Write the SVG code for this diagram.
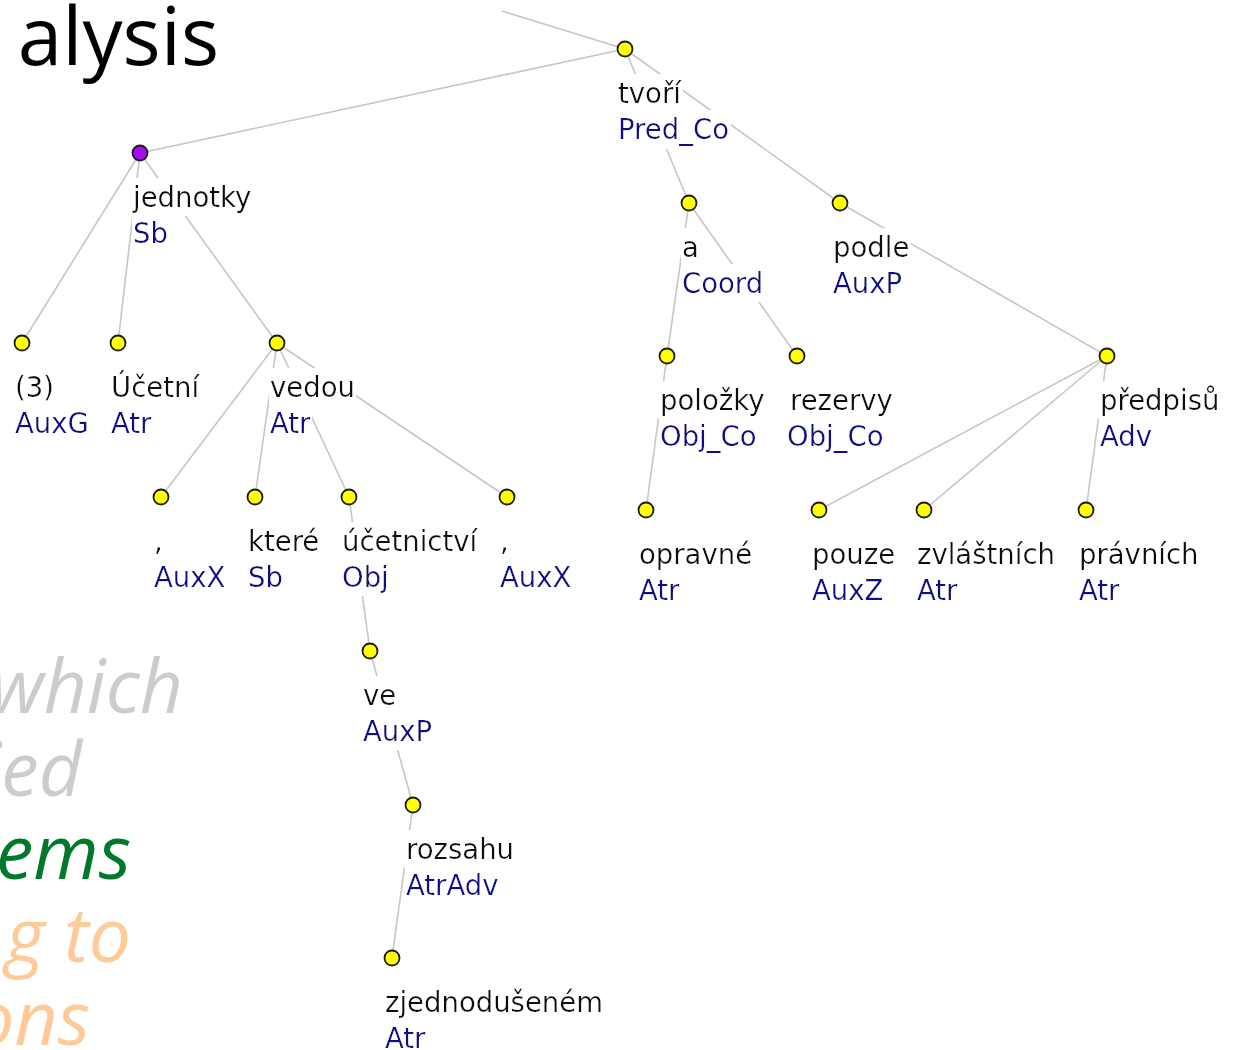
<svg xmlns="http://www.w3.org/2000/svg" width="1236" height="1050" viewBox="0 0 1236 1050">
<defs>
<filter id="bg" x="-0.01" y="-0.08" width="1.02" height="1.16"><feFlood flood-color="#ffffff"/><feComposite in="SourceGraphic" operator="over"/></filter>
<style>
.e{stroke:#c6c6c6;stroke-width:1.6;fill:none}
.n{fill:#ffff00;stroke:#1a1a1a;stroke-width:1.8}
.p{fill:#a20ff0;stroke:#1a1a1a;stroke-width:1.8}
.w{font-family:"DejaVu Sans",Verdana,sans-serif;font-size:27.5px;fill:#0a0a0a;filter:url(#bg)}
.t{font-family:"DejaVu Sans",Verdana,sans-serif;font-size:27.5px;fill:#10108a;filter:url(#bg)}
.big{font-family:"Open Sans","Noto Sans",sans-serif;font-size:80px;fill:#000000}
.it{font-family:"Open Sans","Noto Sans",sans-serif;font-style:italic;font-size:75px}
</style>
</defs>
<rect width="1236" height="1050" fill="#ffffff"/>
<g id="background-text">
<text class="big" x="219" y="65" text-anchor="end">alysis</text>
<text class="it" x="183" y="713" text-anchor="end" fill="#cccccc">which</text>
<text class="it" x="82" y="796" text-anchor="end" fill="#cccccc">ied</text>
<text class="it" x="131" y="879" text-anchor="end" fill="#00792b">ems</text>
<text class="it" x="131" y="962" text-anchor="end" fill="#fecb98">g to</text>
<text class="it" x="90" y="1045" text-anchor="end" fill="#fecb98">ons</text>
</g>
<g id="connectors">
<line class="e" x1="502" y1="11" x2="625" y2="49"/>
<line class="e" x1="625" y1="49" x2="140" y2="153"/>
<line class="e" x1="625" y1="49" x2="689" y2="203"/>
<line class="e" x1="625" y1="49" x2="840" y2="203"/>
<line class="e" x1="140" y1="153" x2="22" y2="343"/>
<line class="e" x1="140" y1="153" x2="118" y2="343"/>
<line class="e" x1="140" y1="153" x2="277" y2="343"/>
<line class="e" x1="277" y1="343" x2="161" y2="497"/>
<line class="e" x1="277" y1="343" x2="255" y2="497"/>
<line class="e" x1="277" y1="343" x2="349" y2="497"/>
<line class="e" x1="277" y1="343" x2="507" y2="497"/>
<line class="e" x1="349" y1="497" x2="370" y2="651"/>
<line class="e" x1="370" y1="651" x2="413" y2="805"/>
<line class="e" x1="413" y1="805" x2="392" y2="958"/>
<line class="e" x1="689" y1="203" x2="667" y2="356"/>
<line class="e" x1="689" y1="203" x2="797" y2="356"/>
<line class="e" x1="667" y1="356" x2="646" y2="510"/>
<line class="e" x1="840" y1="203" x2="1107" y2="356"/>
<line class="e" x1="1107" y1="356" x2="819" y2="510"/>
<line class="e" x1="1107" y1="356" x2="924" y2="510"/>
<line class="e" x1="1107" y1="356" x2="1086" y2="510"/>
</g>
<g id="node-tvori"><circle class="n" cx="625" cy="49" r="7.5"/><text class="w" x="618" y="103">tvoří</text><text class="t" x="618" y="139">Pred_Co</text></g>
<g id="node-jednotky"><circle class="p" cx="140" cy="153" r="7.5"/><text class="w" x="133" y="207">jednotky</text><text class="t" x="133" y="243">Sb</text></g>
<g id="node-a"><circle class="n" cx="689" cy="203" r="7.5"/><text class="w" x="682" y="257">a</text><text class="t" x="682" y="293">Coord</text></g>
<g id="node-podle"><circle class="n" cx="840" cy="203" r="7.5"/><text class="w" x="833" y="257">podle</text><text class="t" x="833" y="293">AuxP</text></g>
<g id="node-3"><circle class="n" cx="22" cy="343" r="7.5"/><text class="w" x="15" y="397">(3)</text><text class="t" x="15" y="433">AuxG</text></g>
<g id="node-ucetni"><circle class="n" cx="118" cy="343" r="7.5"/><text class="w" x="111" y="397">Účetní</text><text class="t" x="111" y="433">Atr</text></g>
<g id="node-vedou"><circle class="n" cx="277" cy="343" r="7.5"/><text class="w" x="270" y="397">vedou</text><text class="t" x="270" y="433">Atr</text></g>
<g id="node-polozky"><circle class="n" cx="667" cy="356" r="7.5"/><text class="w" x="660" y="410">položky</text><text class="t" x="660" y="446">Obj_Co</text></g>
<g id="node-rezervy"><circle class="n" cx="797" cy="356" r="7.5"/><text class="w" x="790" y="410">rezervy</text><text class="t" x="787" y="446">Obj_Co</text></g>
<g id="node-predpisu"><circle class="n" cx="1107" cy="356" r="7.5"/><text class="w" x="1100" y="410">předpisů</text><text class="t" x="1100" y="446">Adv</text></g>
<g id="node-comma1"><circle class="n" cx="161" cy="497" r="7.5"/><text class="w" x="154" y="551">,</text><text class="t" x="154" y="587">AuxX</text></g>
<g id="node-ktere"><circle class="n" cx="255" cy="497" r="7.5"/><text class="w" x="248" y="551">které</text><text class="t" x="248" y="587">Sb</text></g>
<g id="node-ucetnictvi"><circle class="n" cx="349" cy="497" r="7.5"/><text class="w" x="342" y="551">účetnictví</text><text class="t" x="342" y="587">Obj</text></g>
<g id="node-comma2"><circle class="n" cx="507" cy="497" r="7.5"/><text class="w" x="500" y="551">,</text><text class="t" x="500" y="587">AuxX</text></g>
<g id="node-opravne"><circle class="n" cx="646" cy="510" r="7.5"/><text class="w" x="639" y="564">opravné</text><text class="t" x="639" y="600">Atr</text></g>
<g id="node-pouze"><circle class="n" cx="819" cy="510" r="7.5"/><text class="w" x="812" y="564">pouze</text><text class="t" x="812" y="600">AuxZ</text></g>
<g id="node-zvlastnich"><circle class="n" cx="924" cy="510" r="7.5"/><text class="w" x="917" y="564">zvláštních</text><text class="t" x="917" y="600">Atr</text></g>
<g id="node-pravnich"><circle class="n" cx="1086" cy="510" r="7.5"/><text class="w" x="1079" y="564">právních</text><text class="t" x="1079" y="600">Atr</text></g>
<g id="node-ve"><circle class="n" cx="370" cy="651" r="7.5"/><text class="w" x="363" y="705">ve</text><text class="t" x="363" y="741">AuxP</text></g>
<g id="node-rozsahu"><circle class="n" cx="413" cy="805" r="7.5"/><text class="w" x="406" y="859">rozsahu</text><text class="t" x="406" y="895">AtrAdv</text></g>
<g id="node-zjednodusenem"><circle class="n" cx="392" cy="958" r="7.5"/><text class="w" x="385" y="1012">zjednodušeném</text><text class="t" x="385" y="1048">Atr</text></g>
</svg>
